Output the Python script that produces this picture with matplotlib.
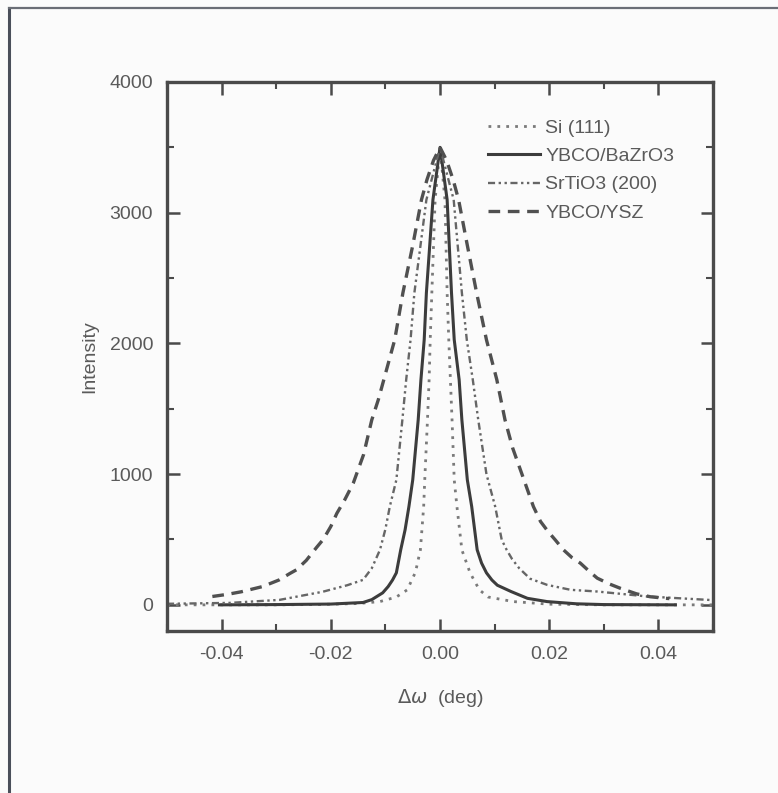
import matplotlib
matplotlib.use("Agg")
from matplotlib import pyplot as plt
from matplotlib.ticker import MultipleLocator, FormatStrFormatter
from matplotlib.lines import Line2D

plt.rcParams['font.family'] = ['Liberation Sans', 'DejaVu Sans']
plt.rcParams['mathtext.fontset'] = 'dejavusans'

# Si (111) - dotted
si_x = [-0.05, -0.03, -0.022, -0.015, -0.011, -0.008, -0.006, -0.0045, -0.0036, -0.0030,
        -0.0028, -0.0023, -0.0020, -0.0018, -0.0015, -0.0009, 0.0,
        0.0009, 0.0013, 0.0016, 0.0019, 0.0022, 0.0026, 0.0031, 0.0040, 0.0055,
        0.0072, 0.0088, 0.0134, 0.02, 0.03, 0.05]
si_y = [0, 0, 3, 10, 25, 60, 115, 250, 420, 750,
        956, 1415, 1722, 2028, 2387, 3099, 3500,
        3099, 2387, 2028, 1722, 1415, 956, 750, 420, 245,
        115, 60, 25, 5, 0, 0]

# YBCO/BaZrO3 - solid
bzo_x = [-0.0404, -0.03, -0.02, -0.0141, -0.0125, -0.0105, -0.0095, -0.0087, -0.0080, -0.0072,
         -0.0064, -0.0057, -0.0050, -0.0040, -0.0035, -0.0029, -0.0025, -0.0013, 0.0,
         0.0013, 0.0021, 0.0026, 0.0035, 0.0040, 0.0050, 0.0058, 0.0068, 0.0076, 0.0085,
         0.0095, 0.0105, 0.0130, 0.016, 0.0196, 0.025, 0.03, 0.0431]
bzo_y = [0, 2, 6, 18, 40, 92, 140, 190, 245, 421,
         574, 752, 956, 1415, 1722, 2028, 2387, 3099, 3500,
         3099, 2387, 2028, 1722, 1415, 956, 752, 421, 320, 245,
         190, 150, 102, 50, 25, 8, 2, 0]

# SrTiO3 (200) - dash-dot-dot
sto_x = [-0.05, -0.0385, -0.0294, -0.0215, -0.0170, -0.0141, -0.0125, -0.0110, -0.0100, -0.0092,
         -0.0080, -0.0069, -0.0062, -0.0054, -0.0047, -0.0025, 0.0,
         0.0025, 0.0040, 0.0049, 0.0060, 0.0070, 0.0085, 0.0101, 0.0113, 0.0122,
         0.0132, 0.0145, 0.0165, 0.0196, 0.0239, 0.0288, 0.038, 0.05]
sto_y = [8, 15, 38, 100, 150, 191, 280, 421, 580, 752,
         956, 1415, 1722, 2028, 2387, 3099, 3500,
         3099, 2387, 2028, 1722, 1415, 1000, 752, 497, 421,
         350, 280, 200, 153, 115, 102, 64, 36]

# YBCO/YSZ - dashed
ysz_x = [-0.0417, -0.0390, -0.0364, -0.0325, -0.0295, -0.0275, -0.0263, -0.0245, -0.0226,
         -0.0214, -0.0200, -0.0189, -0.0175, -0.0159, -0.0140, -0.0125, -0.0113, -0.0103,
         -0.0083, -0.0068, -0.0050, -0.0034, -0.0024, -0.0012, 0.0,
         0.0012, 0.0024, 0.0034, 0.0050, 0.0067, 0.0085, 0.0104, 0.0119, 0.0133, 0.0150,
         0.0171, 0.0184, 0.0198, 0.0211, 0.0226, 0.0242, 0.0257, 0.0275, 0.0288, 0.0310,
         0.0330, 0.0360, 0.0385, 0.0410, 0.0420]
ysz_y = [64, 80, 100, 140, 190, 240, 268, 340, 440,
         500, 600, 700, 800, 930, 1150, 1415, 1570, 1722,
         2028, 2387, 2750, 3099, 3252, 3400, 3500,
         3400, 3252, 3099, 2750, 2387, 2028, 1722, 1415, 1200, 1000,
         752, 638, 560, 497, 421, 360, 319, 250, 204, 160,
         127, 84, 62, 51, 48]

labels = ["Si (111)", "YBCO/BaZrO3", "SrTiO3 (200)", "YBCO/YSZ"]

ink = '#4a4a4a'
txt = '#5a5a5a'
fs = 14

fig = plt.figure(figsize=(7.78, 7.93), dpi=100, facecolor='#fbfbfb')
ax = fig.add_axes([0.2147, 0.2043, 0.7018, 0.6923])
ax.set_facecolor('#fbfbfb')

ax.plot(si_x, si_y, color='#7a7a7a', lw=2.0, linestyle=(0, (1, 2.2)), label=labels[0])
ax.plot(bzo_x, bzo_y, color='#3c3c3c', lw=2.2, linestyle='-', label=labels[1])
ax.plot(sto_x, sto_y, color='#666666', lw=1.7,
        linestyle=(0, (3, 1.5, 1, 1.5, 1, 1.5)), label=labels[2])
ax.plot(ysz_x, ysz_y, color='#505050', lw=2.4, linestyle=(0, (3.5, 2.3)), label=labels[3])

ax.set_xlim(-0.05, 0.05)
ax.set_ylim(-200, 4000)
ax.xaxis.set_major_locator(MultipleLocator(0.02))
ax.xaxis.set_minor_locator(MultipleLocator(0.01))
ax.yaxis.set_major_locator(MultipleLocator(1000))
ax.yaxis.set_minor_locator(MultipleLocator(500))
ax.xaxis.set_major_formatter(FormatStrFormatter('%.2f'))

ax.tick_params(which='both', direction='in', top=True, right=True,
               colors=ink, labelcolor=txt, labelsize=fs)
ax.tick_params(which='major', length=9, width=1.8)
ax.tick_params(which='minor', length=5, width=1.5)
ax.tick_params(axis='x', which='major', pad=11)
ax.tick_params(axis='y', which='major', pad=10)
for s in ax.spines.values():
    s.set_linewidth(2.4)
    s.set_color(ink)

ax.set_xlabel(r'$\Delta\omega$  (deg)', fontsize=fs, color=txt, labelpad=17)
ax.set_ylabel('Intensity', fontsize=fs, color=txt, labelpad=8)

ax.legend(loc='upper left', bbox_to_anchor=(0.57, 0.950), frameon=False,
          fontsize=fs, handlelength=2.7, handletextpad=0.25, labelspacing=0.55,
          borderpad=0, labelcolor=txt)

# scanned page frame
fig.add_artist(Line2D([0.012, 0.012], [0.0, 0.99], color='#4a4f5a', lw=2.2,
                      transform=fig.transFigure))
fig.add_artist(Line2D([0.012, 1.0], [0.99, 0.99], color='#6a6e76', lw=1.6,
                      transform=fig.transFigure))

fig.savefig('out.png', dpi=100, facecolor=fig.get_facecolor())
